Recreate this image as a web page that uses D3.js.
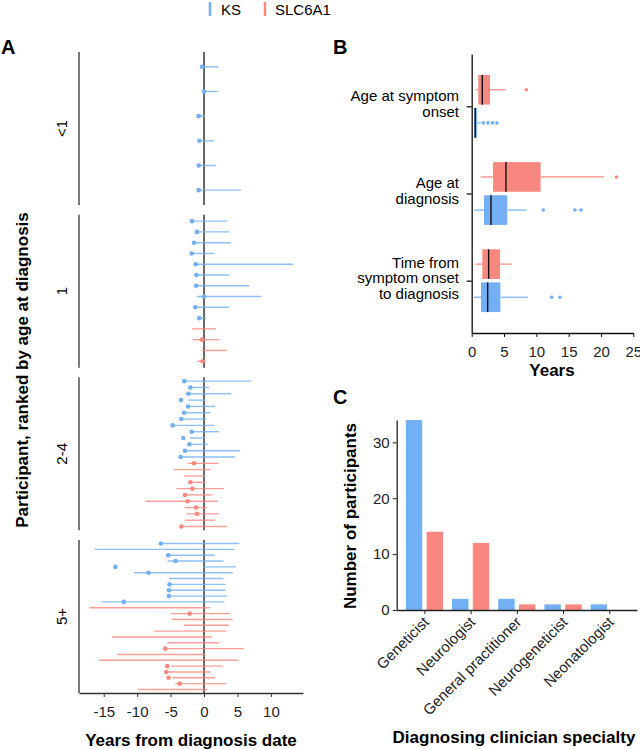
<!DOCTYPE html>
<html><head><meta charset="utf-8">
<script src="https://cdn.jsdelivr.net/npm/d3@7"></script>
<style>
body{margin:0;background:#fff;}
svg{display:block;font-family:"Liberation Sans",Arial,sans-serif;}
</style></head>
<body>
<svg id="chart" width="640" height="749"></svg>
<script>
// ---------- DATA ----------
const genes = ["KS", "SLC6A1"];
const geneColors = ["#72AFF3", "#F8877F"];

// Panel A: participants grouped by age at diagnosis
const ageGroups = ["<1", "1", "2-4", "5+"];
// each row: group, gene, line start, line end, symptom-onset dot (null if none)
const rowGroup = [
  0,0,0,0,0,0,
  1,1,1,1,1,1,1,1,1,1,1,1,1,1,
  2,2,2,2,2,2,2,2,2,2,2,2,2,2,2,2,2,2,2,2,2,2,2,2,
  3,3,3,3,3,3,3,3,3,3,3,3,3,3,3,3,3,3,3,3,3,3,3,3,3,3
];
const rowGene = [
  0,0,0,0,0,0,
  0,0,0,0,0,0,0,0,0,0,1,1,1,1,
  0,0,0,0,0,0,0,0,0,0,0,0,0,1,1,1,1,1,1,1,1,1,1,1,
  0,0,0,0,0,0,0,0,0,0,0,1,1,1,1,1,1,1,1,1,1,1,1,1,1,1
];
const rowStart = [
  -0.3,0,-0.8,-0.7,-0.8,-0.8,
  -1.8,-1.4,-1.5,-1.85,-1.25,-1.15,-1.2,-1.05,-1.65,-1.05,-1.8,-1.7,-0.35,-1.05,
  -2.95,-2.05,-2.85,-2.35,-2.4,-3.0,-3.4,-4.7,-1.85,-2.1,-2.2,-2.85,-3.5,
  -2.45,-4.55,-3.0,-2.4,-4.15,-3.05,-8.75,-2.9,-2.65,-2.85,-3.4,
  -6.45,-16.35,-5.35,-5.45,-0.2,-10.45,-5.2,-5.15,-5.25,-5.25,-15.35,
  -17.15,-5.0,-4.85,-3.05,-7.55,-13.8,-5.45,-5.8,-13.0,-15.7,-4.9,-5.65,-4.75,-4.3,-9.9
];
const rowEnd = [
  2.2,2.05,0.15,1.5,1.8,5.55,
  3.45,3.75,4.05,1.55,13.3,3.75,6.75,8.55,3.75,0.3,1.8,2.3,3.45,0.25,
  7.05,0.75,4.05,0.15,1.65,0.95,0.3,1.6,2.25,0.15,0.55,5.4,4.65,
  2.15,1.0,0.15,0.15,3.0,1.25,2.05,0.4,2.25,1.65,3.45,
  5.3,4.55,1.6,2.9,4.8,4.3,2.9,3.2,3.2,3.5,3.05,
  0.85,3.9,4.3,3.7,3.35,1.2,2.25,5.95,0.15,5.1,2.85,1.0,1.65,3.3,0.45
];
const rowDot = [
  -0.3,0,-0.8,-0.7,-0.8,-0.8,
  -1.8,-1.05,-1.5,-1.85,-1.25,-1.15,-1.2,0,-1.3,-0.7,null,-0.3,null,-0.2,
  -2.95,-2.05,-2.3,-3.45,-2.4,-3.0,-3.4,-4.7,-1.85,-3.1,-2.2,-2.85,-3.5,
  -1.5,null,null,-2.05,-1.75,-2.85,-2.45,-1.2,-1.05,null,-3.4,
  -6.45,null,-5.35,-4.25,-13.25,-8.3,null,-5.15,-5.25,-5.25,-12.0,
  null,-2.15,null,null,null,null,null,-5.8,null,null,-5.5,-5.65,-5.3,-3.65,null
];
const xTicksA = [-15, -10, -5, 0, 5, 10];

// Panel B: box plots (years)
const measures = ["Age at symptom onset", "Age at diagnosis", "Time from symptom onset to diagnosis"];
const measureLines = [["Age at symptom", "onset"], ["Age at", "diagnosis"], ["Time from", "symptom onset", "to diagnosis"]];
// per measure, per gene: [whiskerLow, q1, median, q3, whiskerHigh]
const boxKS = [[0.3, 0.36, 0.55, 0.8, 1.4], [0.36, 1.9, 2.98, 5.5, 8.5], [0.31, 1.44, 2.47, 4.43, 8.65]];
const boxSLC = [[0.62, 1.02, 1.64, 2.83, 5.25], [1.39, 3.3, 5.3, 10.66, 20.5], [0.56, 1.64, 2.62, 4.37, 6.18]];
const outKS = [[1.8, 2.5, 3.2, 3.9], [11.07, 15.97, 16.9], [12.36, 13.65]];
const outSLC = [[8.45], [22.4], []];
const xTicksB = [0, 5, 10, 15, 20, 25];

// Panel C: diagnosing clinician specialty
const specialties = ["Geneticist", "Neurologist", "General practitioner", "Neurogeneticist", "Neonatologist"];
const countKS = [34, 2, 2, 1, 1];
const countSLC = [14, 12, 1, 1, 0];
const yTicksC = [0, 10, 20, 30];

// ---------- DRAW ----------
const svg = d3.select("#chart");
const FONT_AX = 15;
const FONT_TITLE = 17;
const axisCol = "#222";

// Legend
const lg = svg.append("g");
[[0, 210, 221], [1, 265, 275]].forEach(([g, lx, tx]) => {
  lg.append("line").attr("x1", lx).attr("x2", lx).attr("y1", 2).attr("y2", 16)
    .attr("stroke", geneColors[g]).attr("stroke-width", 2.5);
  lg.append("text").attr("x", tx).attr("y", 15).attr("font-size", 15).text(genes[g]);
});

// Panel labels
[["A", 1, 54], ["B", 333, 54], ["C", 333, 404]].forEach(([t, x, y]) => {
  svg.append("text").attr("x", x).attr("y", y).attr("font-size", 20).attr("font-weight", "bold").text(t);
});

// ---------- Panel A ----------
const ax = d3.scaleLinear().domain([-18.7, 14.8]).range([79, 303]);
const aTop = 52, aBottom = 693, aGap = 9.7;
const aPanelH = (aBottom - aTop - aGap * (ageGroups.length - 1)) / ageGroups.length;
const gA = svg.append("g");
const rows = rowGroup.map((g, i) => ({ g, gene: rowGene[i], s: rowStart[i], e: rowEnd[i], d: rowDot[i] }));

ageGroups.forEach((name, gi) => {
  const top = aTop + gi * (aPanelH + aGap);
  const bot = top + aPanelH;
  const gRows = rows.filter(r => r.g === gi);
  const y = d3.scalePoint().domain(d3.range(gRows.length)).range([top, bot]).padding(0.6);
  const p = gA.append("g");
  p.append("line").attr("x1", ax.range()[0]).attr("x2", ax.range()[0]).attr("y1", top).attr("y2", bot)
    .attr("stroke", "#333").attr("stroke-width", 1.3);
  p.append("line").attr("x1", ax(0)).attr("x2", ax(0)).attr("y1", top).attr("y2", bot)
    .attr("stroke", "#444").attr("stroke-width", 1.6);
  gRows.forEach((r, i) => {
    p.append("line").attr("x1", ax(r.s)).attr("x2", ax(r.e)).attr("y1", y(i)).attr("y2", y(i))
      .attr("stroke", geneColors[r.gene]).attr("stroke-opacity", 0.8).attr("stroke-width", 1.4);
    if (r.d !== null) {
      p.append("circle").attr("cx", ax(r.d)).attr("cy", y(i)).attr("r", 2.3).attr("fill", geneColors[r.gene]);
    }
  });
  p.append("text").attr("transform", `translate(67,${(top + bot) / 2}) rotate(-90)`)
    .attr("text-anchor", "middle").attr("font-size", FONT_AX).text(name);
});
const axisA = gA.append("g").attr("transform", `translate(0,${aBottom})`)
  .call(d3.axisBottom(ax).tickValues(xTicksA).tickFormat(d => String(d)).tickSize(4).tickSizeOuter(0));
axisA.select(".domain").attr("stroke", "#333").attr("stroke-width", 1.3);
axisA.selectAll(".tick line").attr("stroke", "#333");
axisA.selectAll(".tick text").attr("font-size", FONT_AX).attr("fill", axisCol).attr("dy", "1.15em").attr("font-family", null);
gA.append("text").attr("x", 191).attr("y", 746).attr("text-anchor", "middle")
  .attr("font-size", FONT_TITLE).attr("font-weight", "bold").text("Years from diagnosis date");
gA.append("text").attr("transform", `translate(28,370) rotate(-90)`).attr("text-anchor", "middle")
  .attr("font-size", FONT_TITLE).attr("font-weight", "bold").text("Participant, ranked by age at diagnosis");

// ---------- Panel B ----------
const bx = d3.scaleLinear().domain([0, 25]).range([471.7, 633.3]);
const by = d3.scalePoint().domain(measures).range([54, 333]).padding(0.6);
const step = by.step();
const gB = svg.append("g");
const boxH = step * 0.34, dodge = step * 0.19;
measures.forEach((m, mi) => {
  [[1, boxSLC[mi], outSLC[mi], -dodge], [0, boxKS[mi], outKS[mi], dodge]].forEach(([gi, b, outs, off]) => {
    const cy = by(m) + off;
    const col = geneColors[gi];
    gB.append("line").attr("x1", bx(b[0])).attr("x2", bx(b[1])).attr("y1", cy).attr("y2", cy)
      .attr("stroke", col).attr("stroke-width", 1.2);
    gB.append("line").attr("x1", bx(b[3])).attr("x2", bx(b[4])).attr("y1", cy).attr("y2", cy)
      .attr("stroke", col).attr("stroke-width", 1.2);
    gB.append("rect").attr("x", bx(b[1])).attr("width", bx(b[3]) - bx(b[1]))
      .attr("y", cy - boxH / 2).attr("height", boxH).attr("fill", col);
    gB.append("line").attr("x1", bx(b[2])).attr("x2", bx(b[2])).attr("y1", cy - boxH / 2).attr("y2", cy + boxH / 2)
      .attr("stroke", "#111").attr("stroke-width", 1.4);
    outs.forEach(o => gB.append("circle").attr("cx", bx(o)).attr("cy", cy).attr("r", 1.8).attr("fill", col));
  });
  const lines = measureLines[mi];
  const lh = 15.5;
  const t = gB.append("text").attr("text-anchor", "end").attr("font-size", 15);
  lines.forEach((l, li) => {
    t.append("tspan").attr("x", 459).attr("y", by(m) - 2.5 + (li - (lines.length - 1) / 2) * lh + 5).text(l);
  });
});
const axisBy = gB.append("g").attr("transform", `translate(${bx(0)},0)`)
  .call(d3.axisLeft(by).tickFormat("").tickSize(5).tickSizeOuter(0));
axisBy.select(".domain").attr("stroke", "#111").attr("stroke-width", 1.3);
axisBy.selectAll(".tick line").attr("stroke", "#111").attr("stroke-width", 1.3);
const axisBx = gB.append("g").attr("transform", `translate(0,333)`)
  .call(d3.axisBottom(bx).tickValues(xTicksB).tickSize(4).tickSizeOuter(0));
axisBx.select(".domain").attr("stroke", "#111").attr("stroke-width", 1.3);
axisBx.selectAll(".tick line").attr("stroke", "#111");
axisBx.selectAll(".tick text").attr("font-size", FONT_AX).attr("fill", axisCol).attr("dy", "1.1em").attr("font-family", null);
gB.append("text").attr("x", 552).attr("y", 376).attr("text-anchor", "middle")
  .attr("font-size", FONT_TITLE).attr("font-weight", "bold").text("Years");

// ---------- Panel C ----------
const cx = d3.scalePoint().domain(specialties).range([396.7, 637]).padding(0.6);
const cy = d3.scaleLinear().domain([0, 34]).range([610, 420]);
const cStep = cx.step();
const barW = cStep * 0.355, barOff = cStep * 0.225;
const gC = svg.append("g");
specialties.forEach((s, i) => {
  [[0, countKS[i], -barOff], [1, countSLC[i], barOff]].forEach(([gi, v, off]) => {
    if (v <= 0) return;
    gC.append("rect").attr("x", cx(s) + off - barW / 2).attr("width", barW)
      .attr("y", cy(v)).attr("height", cy(0) - cy(v)).attr("fill", geneColors[gi]);
  });
});
const axisCy = gC.append("g").attr("transform", `translate(396.7,0)`)
  .call(d3.axisLeft(cy).tickValues(yTicksC).tickSize(4).tickSizeOuter(0));
axisCy.select(".domain").attr("stroke", "#222").attr("stroke-width", 1.3);
axisCy.selectAll(".tick line").attr("stroke", "#222");
axisCy.selectAll(".tick text").attr("font-size", FONT_AX).attr("fill", axisCol).attr("font-family", null);
const axisCx = gC.append("g").attr("transform", `translate(0,610)`)
  .call(d3.axisBottom(cx).tickSize(4).tickSizeOuter(0));
axisCx.select(".domain").attr("stroke", "#222").attr("stroke-width", 1.3);
axisCx.selectAll(".tick line").attr("stroke", "#222");
axisCx.selectAll(".tick text").attr("font-size", FONT_AX).attr("fill", axisCol).attr("font-family", null)
  .attr("text-anchor", "end").attr("dy", null).attr("y", 0)
  .attr("transform", "translate(5,13) rotate(-45)");
gC.append("text").attr("x", 514).attr("y", 743).attr("text-anchor", "middle")
  .attr("font-size", FONT_TITLE).attr("font-weight", "bold").text("Diagnosing clinician specialty");
gC.append("text").attr("transform", `translate(356,516) rotate(-90)`).attr("text-anchor", "middle")
  .attr("font-size", FONT_TITLE).attr("font-weight", "bold").text("Number of participants");
</script>
</body></html>
